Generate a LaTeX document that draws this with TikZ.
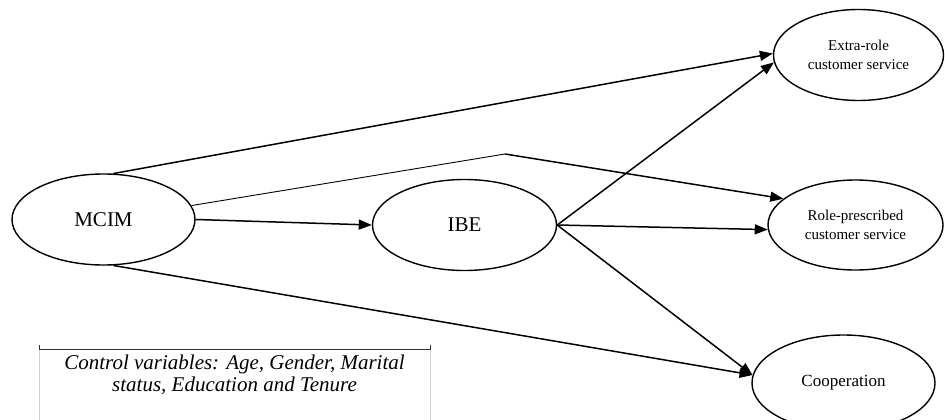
\documentclass[tikz,border=0pt]{standalone}
\usepackage{fontspec}
\setmainfont{Liberation Serif}
\usetikzlibrary{shapes.geometric,arrows.meta}
\begin{document}
\begin{tikzpicture}[x=1pt,y=-1pt,
  latent/.style={ellipse,draw,line width=1.4pt,inner sep=0pt,align=center},
  bigtext/.style={font=\fontsize{21}{24}\selectfont},
  smalltext/.style={font=\fontsize{15}{19}\selectfont},
  arrowpath/.style={line width=1.5pt,-{Triangle[length=13pt,width=10pt]}},
  thinpath/.style={line width=0.9pt}]
\useasboundingbox (0,0) rectangle (945,420);
\node[latent,bigtext,minimum width=183pt,minimum height=91pt] (mcim) at (103.5,219.5) {MCIM};
\node[latent,bigtext,minimum width=184pt,minimum height=91pt] (ibe) at (464.5,225) {IBE};
\node[latent,smalltext,minimum width=170pt,minimum height=91pt] (extra) at (858.5,55) {Extra-role\\customer service};
\node[latent,smalltext,minimum width=175pt,minimum height=90pt] (role) at (855.5,225) {Role-prescribed\\customer service};
\node[latent,font=\fontsize{17}{20}\selectfont,minimum width=183pt,minimum height=96pt] (coop) at (843.5,383) {Cooperation};
\coordinate (kink) at (505,154);
\draw[arrowpath] (mcim.78) -- (extra.179);
\draw[thinpath] (mcim.9) -- (kink);
\draw[arrowpath] (kink) -- (role.160);
\draw[arrowpath] (mcim.east) -- (ibe.west);
\draw[arrowpath] (ibe.east) -- (extra.185);
\draw[arrowpath] (ibe.east) -- (role.183);
\draw[arrowpath] (ibe.east) -- (coop.175);
\draw[arrowpath] (mcim.-78) -- (coop.175);
\node[minimum width=391pt,minimum height=71pt,inner sep=0pt,anchor=north west] (ctrlbox) at (39,349) {};
\draw[gray!35,line width=0.6pt] (ctrlbox.north west) -- (ctrlbox.south west);
\draw[gray!35,line width=0.6pt] (ctrlbox.north east) -- (ctrlbox.south east);
\draw[black!80,line width=0.8pt] ([yshift=4pt]ctrlbox.north west) -- (ctrlbox.north west) -- (ctrlbox.north east) -- ([yshift=4pt]ctrlbox.north east);
\node[font=\fontsize{21}{22}\selectfont\itshape,align=center,inner sep=0pt] (ctrl) at (234.5,375) {Control variables: Age, Gender, Marital\\status, Education and Tenure};
\end{tikzpicture}
\end{document}
